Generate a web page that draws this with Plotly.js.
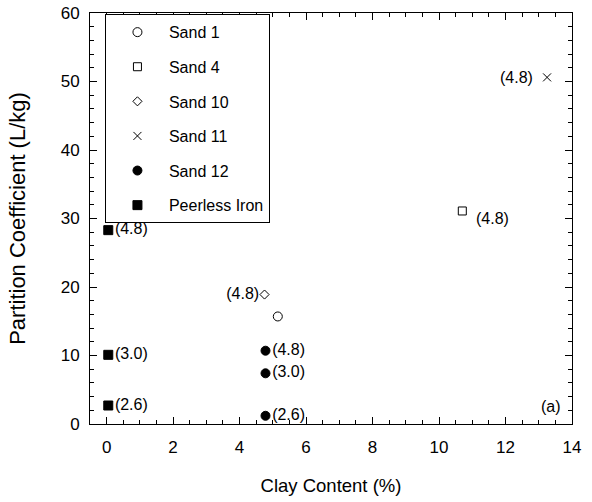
<!DOCTYPE html>
<html>
<head>
<meta charset="utf-8">
<script src="https://cdn.plot.ly/plotly-3.0.1.min.js"></script>
<style>
  html, body { margin: 0; padding: 0; background: #fff; }
  #chart { width: 592px; height: 502px; }
</style>
</head>
<body>
<div id="chart"></div>
<script>
// Partition coefficient vs. clay content; pH in parentheses
const sand1X = [5.15];
const sand1Y = [15.7];
const sand4X = [10.7];
const sand4Y = [31.1];
const sand4Lbl = ['(4.8)'];
const sand10X = [4.75];
const sand10Y = [18.9];
const sand10Lbl = ['(4.8)'];
const sand11X = [13.25];
const sand11Y = [50.6];
const sand11Lbl = ['(4.8)'];
const sand12X = [4.78, 4.78, 4.78];
const sand12Y = [10.7, 7.4, 1.2];
const sand12Lbl = ['(4.8)', '(3.0)', '(2.6)'];
const ironX = [0.05, 0.05, 0.05];
const ironY = [28.3, 10.1, 2.7];
const ironLbl = ['(4.8)', '(3.0)', '(2.6)'];

const FONT = 'Liberation Sans, Arial, Helvetica, sans-serif';
const black = '#000';

function series(name, x, y, symbol, size, group, extra) {
  return Object.assign({
    type: 'scatter', mode: 'markers', name: name, x: x, y: y,
    legendgroup: group,
    marker: { symbol: symbol, size: size, color: black, line: { color: black, width: 1 } },
    cliponaxis: false
  }, extra || {});
}

const labelFont = { family: FONT, size: 16, color: black };

const traces = [
  series('Sand 1', sand1X, sand1Y, 'circle-open', 9, 'g1'),
  series('Sand 4', sand4X, sand4Y, 'square-open', 8, 'g2'),
  series('Sand 10', sand10X, sand10Y, 'diamond-open', 7, 'g3',
    { mode: 'markers+text', text: sand10Lbl, textposition: 'middle left', textfont: labelFont }),
  series('Sand 11', sand11X, sand11Y, 'x-thin-open', 8, 'g4'),
  series('Sand 12', sand12X, sand12Y, 'circle', 9, 'g5',
    { mode: 'markers+text', text: sand12Lbl, textposition: 'middle right', textfont: labelFont }),
  series('Peerless Iron', ironX, ironY, 'square', 9, 'g6',
    { mode: 'markers+text', text: ironLbl, textposition: 'middle right', textfont: labelFont })
];

// Sand 4 label sits below and to the right of its marker
const annotations = sand4X.map((x, i) => ({
  x: x, y: sand4Y[i], xref: 'x', yref: 'y', text: sand4Lbl[i],
  showarrow: false, xanchor: 'left', yanchor: 'middle',
  xshift: 12, yshift: -8, font: labelFont
}));
// Sand 11 label sits well to the left of its marker
sand11X.forEach((x, i) => annotations.push({
  x: x, y: sand11Y[i], xref: 'x', yref: 'y', text: sand11Lbl[i],
  showarrow: false, xanchor: 'right', yanchor: 'middle',
  xshift: -12, font: labelFont
}));
annotations.push({
  x: 13.72, y: 2.6, xref: 'x', yref: 'y', text: '(a)', showarrow: false,
  xanchor: 'right', yanchor: 'middle', font: labelFont
});

const axisCommon = {
  showgrid: false, zeroline: false, showline: true, linecolor: black, linewidth: 1,
  mirror: 'ticks', ticks: 'inside', ticklen: 7, tickcolor: black, tickwidth: 1,
  tickfont: { family: FONT, size: 17, color: black },
  minor: { ticks: 'inside', ticklen: 4, tickcolor: black, tickwidth: 1 }
};

const layout = {
  width: 592, height: 502,
  margin: { l: 90, r: 20, t: 13, b: 78 },
  paper_bgcolor: '#fff', plot_bgcolor: '#fff',
  font: { family: FONT, color: black },
  showlegend: true,
  legend: {
    x: 0.031, y: 0.997, xanchor: 'left', yanchor: 'top',
    bordercolor: black, borderwidth: 1, bgcolor: '#fff',
    font: { family: FONT, size: 16, color: black },
    traceorder: 'grouped', tracegroupgap: 10.8, itemwidth: 53
  },
  xaxis: Object.assign({}, axisCommon, {
    range: [-0.5, 14], dtick: 2, tick0: 0, ticklabelstandoff: 8,
    minor: Object.assign({}, axisCommon.minor, { dtick: 0.5 }),
    title: { text: 'Clay Content (%)', font: { family: FONT, size: 18.5, color: black }, standoff: 22 }
  }),
  yaxis: Object.assign({}, axisCommon, {
    range: [0, 60], dtick: 10, tick0: 0, ticklabelstandoff: 6,
    minor: Object.assign({}, axisCommon.minor, { dtick: 2 }),
    title: { text: 'Partition Coefficient (L/kg)', font: { family: FONT, size: 22, color: black }, standoff: 28 }
  }),
  annotations: annotations
};

Plotly.newPlot('chart', traces, layout, { displayModeBar: false, staticPlot: true });
</script>
</body>
</html>
